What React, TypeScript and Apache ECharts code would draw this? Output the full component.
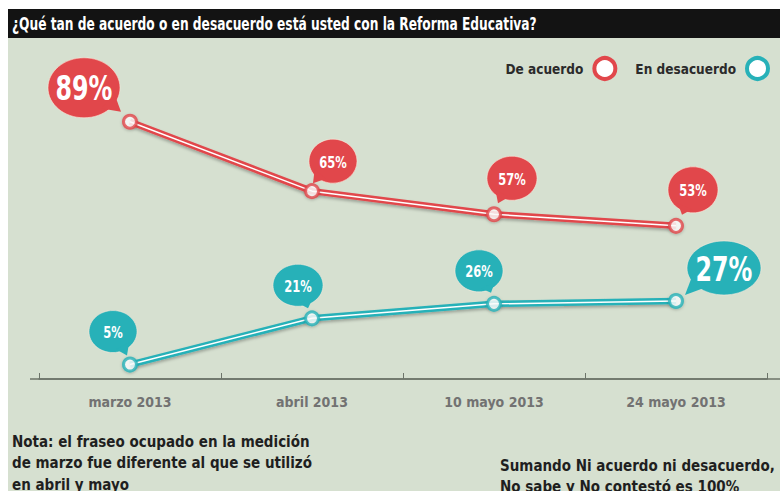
import React, { useEffect, useRef } from "react";
import * as echarts from "echarts";

const categories = ["marzo 2013", "abril 2013", "10 mayo 2013", "24 mayo 2013"];
const deAcuerdo = [89, 65, 57, 53];
const enDesacuerdo = [5, 21, 26, 27];
const seriesNames = ["De acuerdo", "En desacuerdo"];
const titleText = "¿Qué tan de acuerdo o en desacuerdo está usted con la Reforma Educativa?";
const noteLeft = "Nota: el fraseo ocupado en la medición\nde marzo fue diferente al que se utilizó\nen abril y mayo";
const noteRight = "Sumando Ni acuerdo ni desacuerdo,\nNo sabe y No contestó es 100%";

// bubble label placement relative to each point (layout only)
const acuerdoBubbles = [
  { dx: -46, dy: -34, rx: 36, ry: 30, fs: 33, tx: -9, ty: -10 },
  { dx: 21, dy: -30, rx: 24, ry: 22, fs: 16, tx: 1, ty: -8 },
  { dx: 18, dy: -36, rx: 25, ry: 22, fs: 16, tx: 4, ty: -11 },
  { dx: 17, dy: -36, rx: 25, ry: 23, fs: 16, tx: 6, ty: -11 },
];
const desacuerdoBubbles = [
  { dx: -17, dy: -33, rx: 24, ry: 21, fs: 16, tx: -3, ty: -9 },
  { dx: -14, dy: -33, rx: 25, ry: 21, fs: 16, tx: -4, ty: -10 },
  { dx: -15, dy: -33, rx: 24, ry: 21, fs: 16, tx: -3, ty: -11 },
  { dx: 48, dy: -33, rx: 37, ry: 27, fs: 33, tx: 9, ty: -6 },
];

const RED = "#e1474b";
const TEAL = "#27b1b8";
const BG = "#d6e0d0";
const FONT = "'Liberation Sans Narrow', 'DejaVu Sans Condensed', 'Open Sans', sans-serif";

function bubbleRender(layouts: any[], color: string) {
  return (params: any, api: any) => {
    const p = api.coord([api.value(0), api.value(1)]);
    const b = layouts[params.dataIndex];
    const cx = p[0] + b.dx;
    const cy = p[1] + b.dy;
    const tipX = p[0] + b.tx;
    const tipY = p[1] + b.ty;
    const th = Math.atan2(tipY - cy, tipX - cx);
    const a1 = th - 0.38;
    const a2 = th + 0.38;
    const pts = [
      [cx + b.rx * 0.85 * Math.cos(a1), cy + b.ry * 0.85 * Math.sin(a1)],
      [tipX, tipY],
      [cx + b.rx * 0.85 * Math.cos(a2), cy + b.ry * 0.85 * Math.sin(a2)],
    ];
    return {
      type: "group",
      children: [
        {
          type: "ellipse",
          shape: { cx, cy, rx: b.rx, ry: b.ry },
          style: { fill: color, stroke: "rgba(255,236,222,0.55)", lineWidth: 1 },
        },
        { type: "polygon", shape: { points: pts }, style: { fill: color } },
        {
          type: "text",
          x: cx,
          y: cy + 1,
          scaleX: 0.8,
          style: {
            text: api.value(1) + "%",
            x: 0,
            y: 0,
            align: "center",
            verticalAlign: "middle",
            fill: "#ffffff",
            fontSize: b.fs,
            fontWeight: "bold",
            fontFamily: FONT,
          },
        },
      ],
    };
  };
}

function lineSeries(name: string, data: number[], color: string) {
  return [
    {
      name,
      type: "line",
      data,
      symbol: "none",
      z: 2,
      lineStyle: {
        color,
        width: 6.5,
        shadowColor: "rgba(0,0,0,0.28)",
        shadowBlur: 3,
        shadowOffsetY: 2,
      },
      itemStyle: { color },
    },
    {
      type: "line",
      data,
      symbol: "none",
      z: 3,
      lineStyle: { color: "#ffffff", width: 1.5 },
      silent: true,
    },
    {
      type: "scatter",
      data,
      symbol: "circle",
      symbolSize: 13,
      z: 4,
      itemStyle: {
        color: "#ffffff",
        borderColor: color,
        borderWidth: 3,
        shadowColor: "rgba(0,0,0,0.25)",
        shadowBlur: 3,
        shadowOffsetY: 1,
      },
    },
  ];
}

export default function App() {
  const ref = useRef<HTMLDivElement>(null);
  useEffect(() => {
    if (!ref.current) return;
    const chart = echarts.init(ref.current, null, { renderer: "svg" });
    chart.setOption({
      animation: false,
      backgroundColor: "transparent",
      grid: { left: 31, right: 13, top: 82, bottom: 112, containLabel: false },
      legend: {
        right: 10,
        top: 48,
        padding: 0,
        align: "right",
        itemWidth: 21,
        itemHeight: 21,
        itemGap: 18,
        icon: "circle",
        textStyle: { fontSize: 13.5, fontWeight: "bold", color: "#2b2b2b", fontFamily: FONT, padding: [0, 6, 0, 0] },
        data: [
          { name: seriesNames[0], itemStyle: { color: "#ffffff", borderColor: RED, borderWidth: 4 } },
          { name: seriesNames[1], itemStyle: { color: "#ffffff", borderColor: TEAL, borderWidth: 4 } },
        ],
      },
      xAxis: {
        type: "category",
        data: categories,
        boundaryGap: true,
        axisLine: { show: true, lineStyle: { color: "#6c7469", width: 1.5 } },
        axisTick: { show: true, inside: true, length: 6, lineStyle: { color: "#6c7469", width: 1 } },
        axisLabel: { color: "#727272", fontSize: 14, fontWeight: "bold", fontFamily: FONT, margin: 16 },
        splitLine: { show: false },
      },
      yAxis: { type: "value", min: 0, max: 100, show: false },
      graphic: [
        { type: "rect", z: -10, shape: { x: 0, y: 29, width: 772, height: 460 }, style: { fill: BG } },
        { type: "rect", z: -10, shape: { x: 0, y: 1, width: 772, height: 29 }, style: { fill: "#131313" } },
        {
          type: "text",
          x: 4,
          y: 16,
          scaleX: 0.8,
          style: {
            text: titleText,
            fill: "#ffffff",
            fontSize: 17,
            fontWeight: "bold",
            fontFamily: FONT,
            verticalAlign: "middle",
          },
        },
        { type: "line", shape: { x1: 22, y1: 371, x2: 772, y2: 371 }, style: { stroke: "#6c7469", lineWidth: 1.5 } },
        {
          type: "text",
          x: 4,
          y: 423,
          style: { text: noteLeft, fill: "#1f1f1f", fontSize: 15, fontWeight: 600, fontFamily: FONT, lineHeight: 21.5 },
        },
        {
          type: "text",
          x: 492,
          y: 447,
          style: { text: noteRight, fill: "#1f1f1f", fontSize: 15, fontWeight: 600, fontFamily: FONT, lineHeight: 21.5 },
        },
      ],
      series: [
        ...lineSeries(seriesNames[0], deAcuerdo, RED),
        ...lineSeries(seriesNames[1], enDesacuerdo, TEAL),
        {
          type: "custom",
          coordinateSystem: "cartesian2d",
          data: deAcuerdo.map((v, i) => [i, v]),
          renderItem: bubbleRender(acuerdoBubbles, RED),
          z: 5,
          clip: false,
        },
        {
          type: "custom",
          coordinateSystem: "cartesian2d",
          data: enDesacuerdo.map((v, i) => [i, v]),
          renderItem: bubbleRender(desacuerdoBubbles, TEAL),
          z: 5,
          clip: false,
        },
      ],
    });
    return () => chart.dispose();
  }, []);
  return (
    <div
      ref={ref}
      style={{ position: "absolute", left: 8, top: 8, width: 772, height: 483 }}
    />
  );
}
